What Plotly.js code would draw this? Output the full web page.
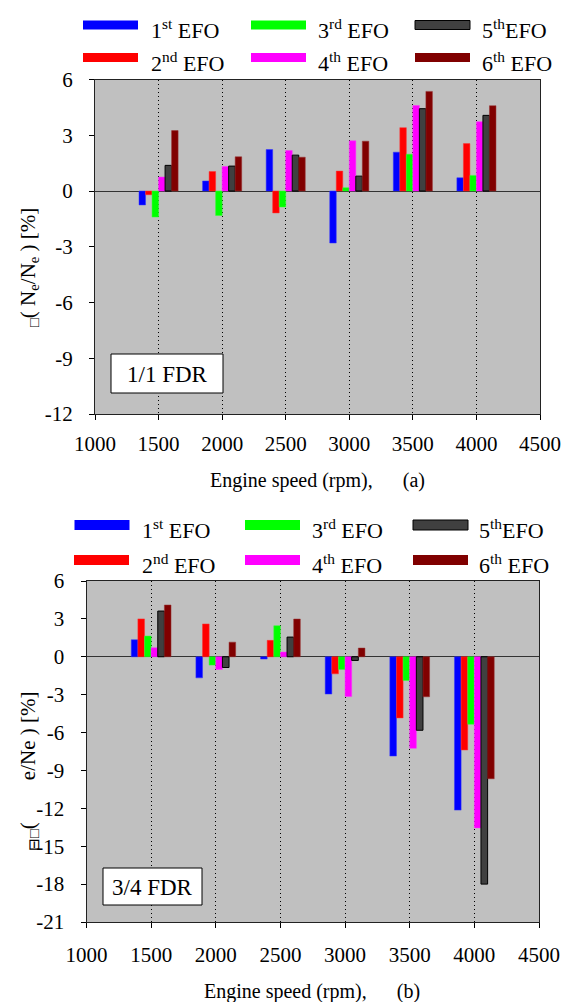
<!DOCTYPE html>
<html>
<head>
<meta charset="utf-8">
<script src="https://cdn.plot.ly/plotly-3.0.1.min.js"></script>
<style>
html,body{margin:0;padding:0;background:#fff;}
#chart{width:569px;height:1002px;}
</style>
</head>
<body>
<div id="chart"></div>
<script>
// ---- data ----
const speeds = [1500, 2000, 2500, 3000, 3500, 4000];
const seriesNames = ["1st EFO", "2nd EFO", "3rd EFO", "4th EFO", "5th EFO", "6th EFO"];
// (a) 1/1 FDR
const fdr11_efo1 = [-0.75, 0.54, 2.23, -2.8, 2.09, 0.71];
const fdr11_efo2 = [-0.2, 1.05, -1.18, 1.07, 3.41, 2.55];
const fdr11_efo3 = [-1.4, -1.32, -0.86, 0.18, 1.98, 0.84];
const fdr11_efo4 = [0.75, 1.32, 2.18, 2.7, 4.6, 3.73];
const fdr11_efo5 = [1.38, 1.34, 1.93, 0.8, 4.43, 4.07];
const fdr11_efo6 = [3.25, 1.84, 1.82, 2.68, 5.36, 4.59];
// (b) 3/4 FDR
const fdr34_efo1 = [1.35, -1.67, -0.18, -2.95, -7.86, -12.14];
const fdr34_efo2 = [3.0, 2.6, 1.3, -1.35, -4.84, -7.38];
const fdr34_efo3 = [1.64, -0.66, 2.46, -1.0, -1.88, -5.34];
const fdr34_efo4 = [0.71, -1.0, 0.37, -3.15, -7.25, -13.55];
const fdr34_efo5 = [3.62, -0.85, 1.56, -0.29, -5.82, -18.0];
const fdr34_efo6 = [4.1, 1.16, 2.99, 0.69, -3.17, -9.66];
const xTickVals = [1000, 1500, 2000, 2500, 3000, 3500, 4000, 4500];
const xTickText = ["1000", "1500", "2000", "2500", "3000", "3500", "4000", "4500"];
const yTicksA = [-12, -9, -6, -3, 0, 3, 6];
const yTickTextA = ["-12", "-9", "-6", "-3", "0", "3", "6"];
const yTicksB = [-21, -18, -15, -12, -9, -6, -3, 0, 3, 6];
const yTickTextB = ["-21", "-18", "-15", "-12", "-9", "-6", "-3", "0", "3", "6"];

// ---- style ----
const colors = ["#0000ff", "#ff0000", "#00ff00", "#ff00ff", "#404040", "#800000"];
const lineColors = ["#3333ff", "#ff3333", "#33ff33", "#ff33ff", "#000000", "#993333"];
const W = 569, H = 1002;
const FONT = "'Liberation Serif', 'Times New Roman', serif";
const px = v => v / W;
const py = v => 1 - v / H;

const setA = [fdr11_efo1, fdr11_efo2, fdr11_efo3, fdr11_efo4, fdr11_efo5, fdr11_efo6];
const setB = [fdr34_efo1, fdr34_efo2, fdr34_efo3, fdr34_efo4, fdr34_efo5, fdr34_efo6];

const traces = [];
setA.forEach((vals, i) => traces.push({
  type: "bar", x: speeds, y: vals, name: seriesNames[i], xaxis: "x", yaxis: "y",
  marker: {color: colors[i], line: {color: lineColors[i], width: i === 4 ? 1 : 0.5}},
  showlegend: false, hoverinfo: "skip"
}));
setB.forEach((vals, i) => traces.push({
  type: "bar", x: speeds, y: vals, name: seriesNames[i], xaxis: "x2", yaxis: "y2",
  marker: {color: colors[i], line: {color: lineColors[i], width: i === 4 ? 1 : 0.5}},
  showlegend: false, hoverinfo: "skip"
}));

const tickFont = {family: FONT, size: 21, color: "#000"};
function xAxis(domain, anchor, standoff) {
  return {
    domain: domain, anchor: anchor, range: [1000, 4500], tickvals: xTickVals, ticktext: xTickText,
    ticks: "outside", ticklen: 5, tickcolor: "#000", showline: true, linecolor: "#222",
    linewidth: 1, mirror: true, showgrid: true, gridcolor: "#000", griddash: "1px,3px",
    gridwidth: 1, zeroline: false, tickfont: tickFont, ticklabelstandoff: standoff, fixedrange: true
  };
}
function yAxis(domain, anchor, range, ticks, text) {
  return {
    domain: domain, anchor: anchor, range: range, tickvals: ticks, ticktext: text,
    ticks: "outside", ticklen: 5, tickcolor: "#000", showline: true, linecolor: "#222",
    linewidth: 1, mirror: true, showgrid: false, zeroline: true, zerolinecolor: "#333",
    zerolinewidth: 1, tickfont: tickFont, ticklabelstandoff: 12, fixedrange: true
  };
}

// legend (drawn manually, 2 rows x 3 columns)
const shapes = [];
const annotations = [];
function legend(rowYs, colXs, textXs, swW, swH, baseYs) {
  const labels = [
    ["1<sup>st</sup> EFO", "3<sup>rd</sup> EFO", "5<sup>th</sup>EFO"],
    ["2<sup>nd</sup> EFO", "4<sup>th</sup> EFO", "6<sup>th</sup> EFO"]
  ];
  const idx = [[0, 2, 4], [1, 3, 5]];
  for (let r = 0; r < 2; r++) {
    for (let c = 0; c < 3; c++) {
      const k = idx[r][c];
      const x0 = colXs[r][c];
      shapes.push({
        type: "rect", xref: "paper", yref: "paper",
        x0: px(x0), x1: px(x0 + swW), y0: py(rowYs[r] - swH / 2), y1: py(rowYs[r] + swH / 2),
        fillcolor: colors[k], line: {color: k === 4 ? "#000" : colors[k], width: k === 4 ? 1 : 0}
      });
      annotations.push({
        xref: "paper", yref: "paper", x: px(textXs[r][c]), y: py(baseYs[r]),
        xanchor: "left", yanchor: "bottom", showarrow: false, text: labels[r][c],
        font: {family: FONT, size: 22, color: "#000"}, borderpad: 0
      });
    }
  }
}
legend([25, 57.5], [[83, 251, 415], [83, 251, 415]], [[150, 317, 481], [150, 317, 481]], 55, 9, [44, 77]);
legend([525, 560], [[74.5, 245, 413], [74, 245, 413]], [[141, 311, 478], [141, 311, 478]], 55, 10, [544, 579]);

// panel label boxes
shapes.push(
  {type: "rect", xref: "paper", yref: "paper", x0: px(111), x1: px(223), y0: py(393), y1: py(354),
   fillcolor: "#fff", line: {color: "#000", width: 1}},
  {type: "rect", xref: "paper", yref: "paper", x0: px(103), x1: px(202), y0: py(905), y1: py(868),
   fillcolor: "#fff", line: {color: "#000", width: 1}}
);

// axis titles & panel labels
annotations.push(
  {xref: "paper", yref: "paper", x: px(317), y: py(480), xanchor: "center", yanchor: "middle",
   showarrow: false, text: "Engine speed (rpm),\u00a0\u00a0\u00a0\u00a0\u00a0\u00a0(a)", font: {family: FONT, size: 20, color: "#000"}},
  {xref: "paper", yref: "paper", x: px(312), y: py(991), xanchor: "center", yanchor: "middle",
   showarrow: false, text: "Engine speed (rpm),\u00a0\u00a0\u00a0\u00a0\u00a0\u00a0(b)", font: {family: FONT, size: 20, color: "#000"}},
  {xref: "paper", yref: "paper", x: px(29), y: py(268), xanchor: "center", yanchor: "middle", textangle: -90,
   showarrow: false, text: "<sub>\u25a1</sub>(\u00a0N<sub>e</sub>/N<sub>e</sub> ) [%]", font: {family: FONT, size: 21, color: "#000"}},
  {xref: "paper", yref: "paper", x: px(29), y: py(772), xanchor: "center", yanchor: "middle", textangle: -90,
   showarrow: false, text: "<sub>\u229f\u25a1</sub>(\u00a0\u00a0\u00a0\u00a0\u00a0\u00a0\u00a0\u00a0e/Ne ) [%]", font: {family: FONT, size: 21, color: "#000"}},
  {xref: "paper", yref: "paper", x: px(167), y: py(374), xanchor: "center", yanchor: "middle",
   showarrow: false, text: "1/1 FDR", font: {family: FONT, size: 23, color: "#000"}},
  {xref: "paper", yref: "paper", x: px(152.5), y: py(887), xanchor: "center", yanchor: "middle",
   showarrow: false, text: "3/4 FDR", font: {family: FONT, size: 23, color: "#000"}}
);

const layout = {
  width: W, height: H, margin: {l: 0, r: 0, t: 0, b: 0},
  paper_bgcolor: "#fff", plot_bgcolor: "#c0c0c0",
  barmode: "group", bargap: 0.385, bargroupgap: 0,
  font: {family: FONT, size: 21, color: "#000"},
  showlegend: false,
  xaxis: xAxis([px(95), px(540)], "y", 6),
  yaxis: yAxis([py(414), py(79.5)], "x", [-12, 6], yTicksA, yTickTextA),
  xaxis2: xAxis([px(86.5), px(539)], "y2", 9),
  yaxis2: yAxis([py(922), py(581)], "x2", [-21, 6], yTicksB, yTickTextB),
  shapes: shapes, annotations: annotations
};

Plotly.newPlot("chart", traces, layout, {staticPlot: true, displayModeBar: false});
</script>
</body>
</html>
